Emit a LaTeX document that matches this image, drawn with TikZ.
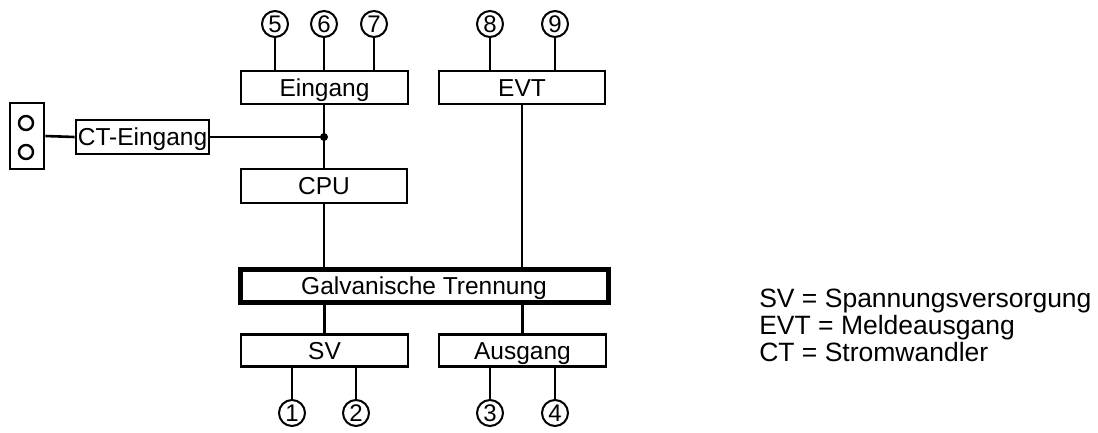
\documentclass[tikz,border=0pt]{standalone}
\usepackage{fontspec}
\setmainfont{Liberation Sans}
\begin{document}
\begin{tikzpicture}[x=1pt,y=-1pt,line width=2.6pt,
  blk/.style={draw,line width=2.6pt,inner sep=0pt,text height=19pt,text depth=2pt,font=\fontsize{24.5}{27}\selectfont},
  pin/.style={draw,circle,line width=2pt,minimum size=26pt,inner sep=0pt,font=\fontsize{24}{26}\selectfont},
  hole/.style={draw,circle,line width=2.4pt,minimum size=14pt,inner sep=0pt},
  legend/.style={anchor=base west,inner sep=0pt,font=\fontsize{26.5}{30}\selectfont}]
\useasboundingbox (0,0) rectangle (1098,432);
% boxes
\node[blk,minimum width=167pt,minimum height=33pt] (eing) at (324.5,87.5) {Eingang};
\node[blk,minimum width=166pt,minimum height=33pt] (evt) at (522,87.5) {EVT};
\node[blk,minimum width=166pt,minimum height=34pt] (cpu) at (324,186) {CPU};
\node[blk,line width=5pt,minimum width=368pt,minimum height=33pt] (galv) at (424,285.5) {Galvanische Trennung};
\node[blk,minimum width=167pt,minimum height=32pt] (sv) at (324.5,350.5) {SV};
\node[blk,minimum width=167pt,minimum height=32pt] (ausg) at (522.5,350.5) {Ausgang};
\node[blk,minimum width=133pt,minimum height=34pt] (ct) at (142.5,137) {CT-Eingang};
\node[draw,line width=2.6pt,minimum width=34pt,minimum height=66pt,inner sep=0pt] (conn) at (27,136) {};
\node[hole] (h1) at (26,123) {};
\node[hole] (h2) at (26,152) {};
% pins
\node[pin] (p5) at (275,24) {5};
\node[pin] (p6) at (324,24) {6};
\node[pin] (p7) at (374,24) {7};
\node[pin] (p8) at (490,24) {8};
\node[pin] (p9) at (555,24) {9};
\node[pin] (p1) at (292,413) {1};
\node[pin] (p2) at (356,413) {2};
\node[pin] (p3) at (490,413) {3};
\node[pin] (p4) at (555,413) {4};
% junction
\coordinate (j) at (324,137);
\fill (j) circle (4pt);
% connectors
\foreach \p in {p5,p6,p7} \draw (\p) -- (\p |- eing.north);
\foreach \p in {p8,p9} \draw (\p) -- (\p |- evt.north);
\foreach \p in {p1,p2} \draw (\p) -- (\p |- sv.south);
\foreach \p in {p3,p4} \draw (\p) -- (\p |- ausg.south);
\draw (eing.south -| j) -- (j) -- (cpu.north -| j);
\draw (conn.east) -- (ct.west);
\draw (ct.east) -- (j);
\draw (cpu.south -| j) -- (galv.north -| j);
\draw (evt.south) -- (galv.north -| evt.south);
\draw (galv.south -| sv.south) -- (sv.north);
\draw (galv.south -| ausg.south) -- (ausg.north);
% legend
\node[legend] (l1) at (758,307) {SV = Spannungsversorgung};
\node[legend] (l2) at (758,334) {EVT = Meldeausgang};
\node[legend] (l3) at (758,361) {CT = Stromwandler};
\end{tikzpicture}
\end{document}
